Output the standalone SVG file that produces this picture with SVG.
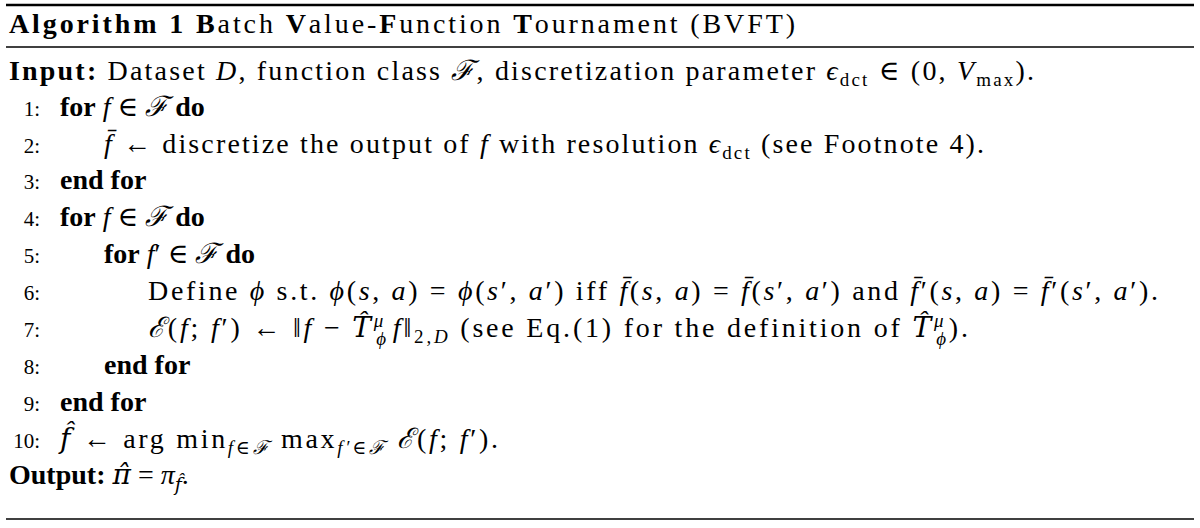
<svg xmlns="http://www.w3.org/2000/svg" width="1200" height="528" viewBox="0 0 1200 528">
<style>
text{font-family:"Liberation Serif","DejaVu Serif",serif;font-size:28px;fill:#000}
.n{font-size:21px;text-anchor:end}
.b{font-weight:bold}
.i{font-style:italic}
.s{font-size:19px}
.c{font-family:"DejaVu Serif",serif;font-style:italic}
</style>
<rect width="1200" height="528" fill="#fff"/>
<line x1="6" y1="5" x2="1194" y2="5" stroke="#000" stroke-width="2.5"/>
<line x1="6" y1="47" x2="1194" y2="47" stroke="#000" stroke-width="1.5"/>
<line x1="6" y1="519" x2="1194" y2="519" stroke="#000" stroke-width="1.5"/>
<text x="9" y="33" textLength="786" lengthAdjust="spacing"><tspan class="b">Algorithm 1 B</tspan>atch <tspan class="b">V</tspan>alue-<tspan class="b">F</tspan>unction <tspan class="b">T</tspan>ournament (BVFT)</text>
<text x="9" y="80" textLength="1025" lengthAdjust="spacing"><tspan class="b">Input:</tspan> Dataset <tspan class="i">D</tspan>, function class <tspan class="c">ℱ</tspan>, discretization parameter <tspan class="i">ϵ</tspan><tspan class="s" dy="6">dct</tspan><tspan dy="-6"> ∈ (0, </tspan><tspan class="i">V</tspan><tspan class="s" dy="6">max</tspan><tspan dy="-6">).</tspan></text>
<text class="n" x="40" y="116">1:</text>
<text x="60" y="116"><tspan class="b">for</tspan> <tspan class="i">f</tspan> ∈ <tspan class="c">ℱ</tspan> <tspan class="b">do</tspan></text>
<text class="n" x="40" y="153">2:</text>
<text x="104" y="153" textLength="880" lengthAdjust="spacing"><tspan class="i">f̄</tspan> ← discretize the output of <tspan class="i">f</tspan> with resolution <tspan class="i">ϵ</tspan><tspan class="s" dy="6">dct</tspan><tspan dy="-6"> (see Footnote 4).</tspan></text>
<text class="n" x="40" y="189">3:</text>
<text x="60" y="189" class="b">end for</text>
<text class="n" x="40" y="226">4:</text>
<text x="60" y="226"><tspan class="b">for</tspan> <tspan class="i">f</tspan> ∈ <tspan class="c">ℱ</tspan> <tspan class="b">do</tspan></text>
<text class="n" x="40" y="263">5:</text>
<text x="104" y="263"><tspan class="b">for</tspan> <tspan class="i">f</tspan>′ ∈ <tspan class="c">ℱ</tspan> <tspan class="b">do</tspan></text>
<text class="n" x="40" y="300">6:</text>
<text x="148" y="300" textLength="1010" lengthAdjust="spacing">Define <tspan class="i">ϕ</tspan> s.t. <tspan class="i">ϕ</tspan>(<tspan class="i">s</tspan>, <tspan class="i">a</tspan>) = <tspan class="i">ϕ</tspan>(<tspan class="i">s</tspan>′, <tspan class="i">a</tspan>′) iff <tspan class="i">f̄</tspan>(<tspan class="i">s</tspan>, <tspan class="i">a</tspan>) = <tspan class="i">f̄</tspan>(<tspan class="i">s</tspan>′, <tspan class="i">a</tspan>′) and <tspan class="i">f̄</tspan>′(<tspan class="i">s</tspan>, <tspan class="i">a</tspan>) = <tspan class="i">f̄</tspan>′(<tspan class="i">s</tspan>′, <tspan class="i">a</tspan>′).</text>
<text class="n" x="40" y="337">7:</text>
<text x="148" y="337" textLength="820" lengthAdjust="spacing"><tspan class="c">ℰ</tspan>(<tspan class="i">f</tspan>; <tspan class="i">f</tspan>′) ← ‖<tspan class="i">f</tspan> − <tspan class="c">T̂</tspan><tspan class="i s" dy="-10">μ</tspan><tspan class="i s" dx="-10" dy="18">ϕ</tspan><tspan class="i" dx="4" dy="-8">f</tspan>‖<tspan class="s" dy="6">2,<tspan class="i">D</tspan></tspan><tspan dy="-6"> (see Eq.(1) for the definition of </tspan><tspan class="c">T̂</tspan><tspan class="i s" dy="-10">μ</tspan><tspan class="i s" dx="-10" dy="18">ϕ</tspan><tspan dy="-8">).</tspan></text>
<text class="n" x="40" y="374">8:</text>
<text x="104" y="374" class="b">end for</text>
<text class="n" x="40" y="411">9:</text>
<text x="60" y="411" class="b">end for</text>
<text class="n" x="40" y="448">10:</text>
<text x="60" y="448" textLength="438" lengthAdjust="spacing"><tspan class="c">f̂</tspan> ← arg min<tspan class="s i" dy="6">f</tspan><tspan class="s">∈</tspan><tspan class="s c">ℱ</tspan><tspan dy="-6"> max</tspan><tspan class="s i" dy="6">f′</tspan><tspan class="s">∈</tspan><tspan class="s c">ℱ</tspan><tspan dy="-6"> </tspan><tspan class="c">ℰ</tspan>(<tspan class="i">f</tspan>; <tspan class="i">f</tspan>′).</text>
<text x="9" y="484"><tspan class="b">Output:</tspan> <tspan class="c">π̂</tspan> = <tspan class="i">π</tspan><tspan class="s c" dy="7">f̂</tspan><tspan dy="-7">.</tspan></text>
</svg>
